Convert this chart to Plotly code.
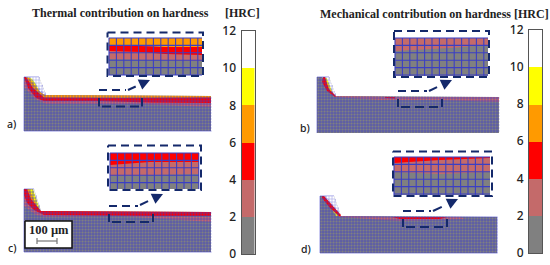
import numpy as np
import plotly.graph_objects as go

# ---- colour scale -----
HRC_TICKS = [0, 2, 4, 6, 8, 10, 12]
HRC_STEP = [2, 2, 2, 2, 2, 2]
HRC_COLORS = ["#808080", "#c46a6a", "#fe0000", "#ff9a00", "#ffff00", "#ffffff"]
GRAY, PINK, RED, ORANGE, YELLOW, WHITE = HRC_COLORS
NAVY = "#14296b"
MESH = "rgba(62,62,205,0.62)"

# ---- workpiece outlines (x, y on the page grid) ----
A_OUT_X = [24, 39, 46, 211, 211, 24]
A_OUT_Y = [77, 77, 95, 96, 131, 131]
B_OUT_X = [317, 329, 336, 499, 499, 317]
B_OUT_Y = [77, 77, 96, 97, 133, 133]
C_OUT_X = [24, 34, 41, 211, 211, 24]
C_OUT_Y = [189, 189, 211, 212, 252, 252]
D_OUT_X = [320, 334, 341, 497, 497, 320]
D_OUT_Y = [196, 196, 216, 217, 253, 253]

# ---- hardness regions in the panels: (colour, xs, ys) ----
A_BANDS = [
    (WHITE, [24, 39, 46, 45, 24], [77, 77, 95, 97, 77]),
    (YELLOW, [27, 33, 41, 38], [77, 79, 94, 92]),
    (ORANGE, [25, 29, 40, 45, 211, 211, 45, 38], [77, 78, 92, 95, 96, 99, 99, 96]),
    (PINK, [24, 24, 35, 46, 140, 211, 211, 140, 46], [80, 87, 99, 104, 104, 107, 102, 100, 100]),
    (RED, [24, 26, 33, 44, 120, 150, 211, 211, 150, 100, 44, 36, 28],
          [77, 77, 88, 97.5, 98, 98, 97.5, 103, 102.5, 101, 101, 98, 88]),
]
B_BANDS = [
    (WHITE, [317, 329, 336, 335, 322], [77, 77, 96, 96, 77]),
    (YELLOW, [323, 327, 333, 331], [78, 78, 94, 94]),
    (PINK, [334, 400, 499, 499, 440, 380, 334], [96, 97, 97, 102, 100, 100, 97]),
    (RED, [323, 325, 329, 336, 335, 327, 322], [77, 77, 89, 96, 97, 91, 82]),
    (RED, [385, 395, 395, 385], [97, 97, 98.5, 98]),
]
C_BANDS = [
    (WHITE, [24, 34, 41, 40, 24], [189, 189, 211, 212, 189]),
    (YELLOW, [26, 33, 40, 36], [189, 189, 210, 208]),
    (ORANGE, [25, 29, 39, 35], [189, 189, 210, 210]),
    (PINK, [24, 24, 36, 45, 120, 211, 211, 130, 45], [196, 206, 215, 217, 216, 222, 217, 216, 215]),
    (RED, [24, 27, 31, 41, 211, 211, 150, 44, 34, 27, 24],
          [189, 189, 199, 211, 212, 216, 216, 215, 210, 203, 195]),
]
D_BANDS = [
    (WHITE, [320, 334, 341, 340, 324], [196, 196, 216, 217, 196]),
    (YELLOW, [324, 328, 339, 336], [196, 202, 215, 216]),
    (PINK, [340, 400, 460, 465, 400, 340], [216, 217, 217, 219, 221, 217]),
    (RED, [322, 324, 341, 340, 330, 322], [196, 196, 215, 217, 208, 198]),
    (RED, [392, 447, 440, 400], [217, 217, 219, 219]),
]

# ---- zoomed insets: left, right, top, bottom of dashed frame ----
A_FRAME = [107.5, 203, 32.5, 76]
B_FRAME = [394, 489, 31, 77]
C_FRAME = [108, 201, 145.5, 190]
D_FRAME = [393, 492, 151.5, 196]

A_INSET = [
    (GRAY, [109, 202, 202, 109], [38, 38, 75, 75]),
    (PINK, [109, 202, 202, 109], [50, 50, 61, 59]),
    (RED, [109, 140, 165, 202, 202, 165, 140, 109], [46, 46, 47, 47, 55, 54, 52, 51]),
    (ORANGE, [109, 202, 202, 165, 140, 109], [38, 38, 47, 47, 45, 46]),
]
B_INSET = [
    (GRAY, [395, 488, 488, 395], [38, 38, 76, 76]),
    (PINK, [395, 488, 488, 450, 395], [38, 38, 45, 48, 51]),
]
C_INSET = [
    (GRAY, [110, 199, 199, 110], [153, 153, 189, 189]),
    (PINK, [110, 199, 199, 110], [160, 160, 174, 176]),
    (RED, [110, 199, 199, 150, 110], [153, 153, 162, 162, 165]),
]
D_INSET = [
    (GRAY, [394, 490, 490, 394], [157, 157, 195, 195]),
    (PINK, [394, 490, 490, 440, 394], [157, 157, 172, 174, 172]),
    (RED, [394, 430, 490, 490, 440, 394], [157, 157, 157, 158, 160, 163]),
]

# ---- selection boxes (left, right, top, bottom) and arrow tips ----
A_SEL = [99, 142, 90, 106.5]
B_SEL = [398, 442, 91, 107]
C_SEL = [109, 153, 206, 222]
D_SEL = [403, 447, 211, 227]
A_ARROW = [(128, 90), (150, 80)]
B_ARROW = [(429, 91), (452, 80)]
C_ARROW = [(140, 205), (163, 194)]
D_ARROW = [(433, 211), (458, 199)]

# ---- pale chip tips laid over the mesh ----
A_TIP = ([30, 39, 46, 41], [77, 77, 95, 90])
B_TIP = ([326, 329, 336, 333], [77, 77, 96, 92])
C_TIP = ([33, 34, 41, 40], [189, 189, 211, 208])
D_TIP = ([326, 334, 341, 339], [196, 196, 216, 212])

PANEL_LABELS = [("a)", 11, 124), ("b)", 305, 128), ("c)", 12, 248), ("d)", 306, 249)]
PANEL_MESH_STEP = 3.0
INSET_MESH_STEP = 7.4

fig = go.Figure()


def poly(xs, ys, color):
    fig.add_trace(go.Scatter(x=xs, y=ys, mode="lines", fill="toself", fillcolor=color,
                             line=dict(width=0), hoverinfo="skip", showlegend=False))


def line(xs, ys, color, width, dash="solid"):
    fig.add_trace(go.Scatter(x=xs, y=ys, mode="lines", line=dict(color=color, width=width, dash=dash),
                             hoverinfo="skip", showlegend=False))


def mesh(out_x, out_y, step, color, width):
    left, right, bottom = min(out_x), max(out_x), max(out_y)
    xs_all = np.arange(left, right + 1, 0.5)
    top = np.interp(xs_all, out_x[:4], out_y[:4])
    xs, ys = [], []
    for gx in np.arange(left, right + 0.01, step):
        xs += [gx, gx, None]
        ys += [float(np.interp(gx, xs_all, top)), bottom, None]
    for gy in np.arange(min(out_y), bottom + 0.01, step):
        inside = xs_all[top <= gy]
        if len(inside):
            xs += [float(inside[0]), float(inside[-1]), None]
            ys += [gy, gy, None]
    line(xs, ys, color, width)


def panel(out_x, out_y, bands, tip):
    poly(out_x, out_y, GRAY)
    for color, xs, ys in bands:
        poly(xs, ys, color)
    mesh(out_x, out_y, PANEL_MESH_STEP, MESH, 0.9)
    poly(tip[0], tip[1], "rgba(255,255,255,0.5)")


def inset(frame, bands):
    for color, xs, ys in bands:
        poly(xs, ys, color)
    left, right = min(bands[0][1]), max(bands[0][1])
    top, bottom = min(bands[0][2]), max(bands[0][2])
    xs, ys = [], []
    for gx in np.arange(left, right + 0.01, INSET_MESH_STEP):
        xs += [gx, gx, None]
        ys += [top, bottom, None]
    for gy in np.arange(top, bottom + 0.01, INSET_MESH_STEP):
        xs += [left, right, None]
        ys += [gy, gy, None]
    line(xs, ys, "#3b3fc4", 1.1)
    l, r, t, b = frame
    line([l, r, r, l, l], [t, t, b, b, t], NAVY, 2, "8px,5px")


def selection(sel, arrow):
    l, r, t, b = sel
    (x0, y0), (x1, y1) = arrow
    line([l, x0 - 2], [t, t], NAVY, 2, "8px,5px")
    line([l, l], [t + 8, b], NAVY, 2)
    line([r, r], [t + 8, b], NAVY, 2)
    line([l + 3, r], [b, b], NAVY, 2, "9px,5px")
    line([x0, x0 + (x1 - x0) * 0.35], [y0, y0 + (y1 - y0) * 0.35], NAVY, 2)
    fig.add_annotation(x=x1, y=y1, ax=x0 + (x1 - x0) * 0.6, ay=y0 + (y1 - y0) * 0.6,
                       xref="x", yref="y", axref="x", ayref="y", text="", showarrow=True,
                       arrowhead=2, arrowsize=1.1, arrowwidth=2, arrowcolor=NAVY)


for o in [(A_OUT_X, A_OUT_Y, A_BANDS, A_TIP), (B_OUT_X, B_OUT_Y, B_BANDS, B_TIP),
          (C_OUT_X, C_OUT_Y, C_BANDS, C_TIP), (D_OUT_X, D_OUT_Y, D_BANDS, D_TIP)]:
    panel(*o)
for f, b in [(A_FRAME, A_INSET), (B_FRAME, B_INSET), (C_FRAME, C_INSET), (D_FRAME, D_INSET)]:
    inset(f, b)
for s, a in [(A_SEL, A_ARROW), (B_SEL, B_ARROW), (C_SEL, C_ARROW), (D_SEL, D_ARROW)]:
    selection(s, a)

# scale bar box
poly([25, 72, 72, 25], [221, 221, 248, 248], "#ffffff")
line([25, 72, 72, 25, 25], [221, 221, 248, 248, 221], "#111111", 1.5)
line([37, 57], [241, 241], "#777777", 1.2)
line([37, 37, None, 57, 57], [238, 244, None, 238, 244], "#777777", 1.2)

# colour bars on their own HRC axes
for xname, yname in [("x2", "y2"), ("x3", "y3")]:
    for step, c in zip(HRC_STEP, HRC_COLORS):
        fig.add_trace(go.Bar(x=[0], y=[step], width=1, marker=dict(color=c, line=dict(width=0)),
                             xaxis=xname, yaxis=yname, hoverinfo="skip", showlegend=False))

TEXT_FONT = "Liberation Serif"
LABEL_FONT = "Noto Sans"
texts = [
    ("Thermal contribution on hardness", 120.5, 12.5, 12, TEXT_FONT),
    ("[HRC]", 242.5, 13, 12, TEXT_FONT),
    ("Mechanical contribution on hardness [HRC]", 434, 14, 12, TEXT_FONT),
    ("100 µm", 49, 229.5, 12.5, TEXT_FONT),
]
for t, x, y, s, fam in texts:
    fig.add_annotation(x=x, y=y, xref="x", yref="y", text=f"<b>{t}</b>", showarrow=False,
                       font=dict(family=fam, size=s, color="#222222"))
for t, x, y in PANEL_LABELS:
    fig.add_annotation(x=x, y=y, xref="x", yref="y", text=t, showarrow=False,
                       font=dict(family=LABEL_FONT, size=10.5, weight=500, color="#222222"))

hrc_axis = dict(range=[0, 12], tickvals=HRC_TICKS, ticks="", showgrid=False, zeroline=False, automargin=False,
                showline=True, linecolor="#555555", linewidth=1.2, mirror=True,
                tickfont=dict(family=LABEL_FONT, size=12, weight=500, color="#222222"), ticklabelstandoff=2)
bar_x = dict(range=[-0.5, 0.5], showticklabels=False, ticks="", showgrid=False, zeroline=False, automargin=False,
             showline=True, linecolor="#555555", linewidth=1.2, mirror=True)

fig.update_layout(
    width=550, height=265, margin=dict(l=0, r=0, t=0, b=0), paper_bgcolor="white", plot_bgcolor="white",
    barmode="stack", bargap=0, showlegend=False,
    xaxis=dict(range=[0, 550], visible=False, domain=[0, 1], automargin=False),
    yaxis=dict(range=[265, 0], visible=False, domain=[0, 1], automargin=False),
    xaxis2=dict(domain=[241.5 / 550, 254.5 / 550], anchor="y2", **bar_x),
    yaxis2=dict(domain=[1 - 254 / 265, 1 - 31 / 265], anchor="x2", **hrc_axis),
    xaxis3=dict(domain=[529 / 550, 542 / 550], anchor="y3", **bar_x),
    yaxis3=dict(domain=[1 - 253 / 265, 1 - 29.5 / 265], anchor="x3", **hrc_axis),
)
fig.write_html("out.html", config=dict(displayModeBar=False),
               post_script="document.body.style.margin='0';document.body.style.overflow='hidden';")
